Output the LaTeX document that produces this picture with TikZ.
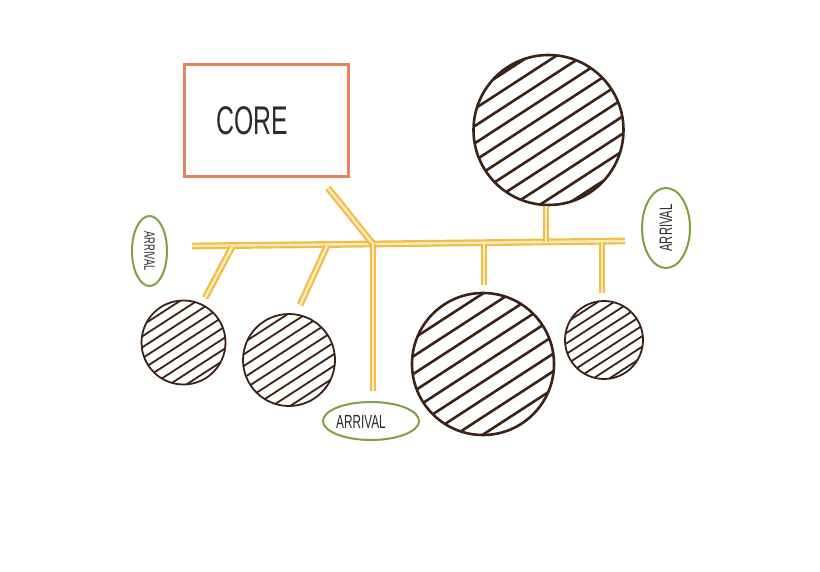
\documentclass[tikz,border=0pt]{standalone}
\usepackage{fontspec}
\setmainfont{Liberation Sans}
\usetikzlibrary{shapes.geometric}
\definecolor{corec}{HTML}{E8845C}
\definecolor{greenc}{HTML}{7FA043}
\definecolor{yellc}{HTML}{F0BE48}
\definecolor{yellin}{HTML}{FCEBB5}
\definecolor{brownc}{HTML}{3B2218}
\definecolor{inkc}{HTML}{2A2A2A}
\tikzset{
  pipe/.style={draw=yellc, line width=2.2pt, double=yellin, double distance=2.4pt, line cap=butt},
  hatched/.style n args={3}{circle, draw=brownc, line width=#3, inner sep=0pt, minimum size=#1,
    path picture={
      \foreach \k in {-7,...,7} {
        \pgfmathsetmacro{\nx}{\k*#2*0.5446}
        \pgfmathsetmacro{\ny}{\k*#2*0.8387}
        \draw[brownc, line width=#3]
          ([shift={(\nx-96.4,\ny+62.6)}]path picture bounding box.center) --
          ([shift={(\nx+96.4,\ny-62.6)}]path picture bounding box.center);
      }}},
  arrival/.style={ellipse, draw=greenc, line width=2pt, inner sep=0pt, text=inkc},
}
\begin{document}
\begin{tikzpicture}[x=1pt,y=-1pt]
\useasboundingbox (0,0) rectangle (820,572);
% core box
\node[draw=corec, line width=3pt, minimum width=164pt, minimum height=112pt, inner sep=0pt] (core) at (266,121) {};
\node[text=inkc, font=\fontsize{40}{40}\selectfont] (coretxt) at (252,121) {\scalebox{0.62}[1]{CORE}};
% circles
\node[hatched={84pt}{9.2}{1.8pt}] (c1) at (183.5,342.5) {};
\node[hatched={92pt}{9.8}{1.8pt}] (c2) at (289,360) {};
\node[hatched={142pt}{14.8}{2.6pt}] (c3) at (483,364) {};
\node[hatched={78pt}{8.8}{1.8pt}] (c4) at (604,340) {};
\node[hatched={150pt}{14.5}{2.6pt}] (c5) at (548.5,130) {};
% arrival ellipses
\node[arrival, minimum width=35pt, minimum height=70pt] (a1) at (149.5,251) {};
\node[rotate=-90, text=inkc, font=\fontsize{15}{15}\selectfont] at (a1) {\scalebox{0.62}[1]{ARRIVAL}};
\node[arrival, minimum width=48pt, minimum height=80pt] (a2) at (666,228) {};
\node[rotate=90, text=inkc, font=\fontsize{18}{18}\selectfont] at (a2) {\scalebox{0.62}[1]{ARRIVAL}};
\node[arrival, minimum width=96pt, minimum height=38pt] (a3) at (371,421) {};
\node[text=inkc, font=\fontsize{19}{19}\selectfont] at (361,422) {\scalebox{0.62}[1]{ARRIVAL}};
% pipe coordinates
\coordinate (barL) at (192,246);
\coordinate (J) at (373,244);
\coordinate (barR) at (625,241);
\coordinate (diagTop) at (328,188);
\coordinate (vBot) at (373,391);
\coordinate (b1t) at (232,247);
\coordinate (b1b) at (205,298);
\coordinate (b2t) at (327,246);
\coordinate (b2b) at (300,305);
\coordinate (b3t) at (546,206);
\coordinate (b3b) at (546,242);
\coordinate (b4t) at (484,244);
\coordinate (b4b) at (484,285);
\coordinate (b5t) at (602,242);
\coordinate (b5b) at (602,293);
% pipes
\draw[pipe] (barL) -- (J) -- (barR);
\draw[pipe] (diagTop) -- (J);
\draw[pipe] (J) -- (vBot);
\draw[pipe] (b1t) -- (b1b);
\draw[pipe] (b2t) -- (b2b);
\draw[pipe] (b3t) -- (b3b);
\draw[pipe] (b4t) -- (b4b);
\draw[pipe] (b5t) -- (b5b);
\end{tikzpicture}
\end{document}
